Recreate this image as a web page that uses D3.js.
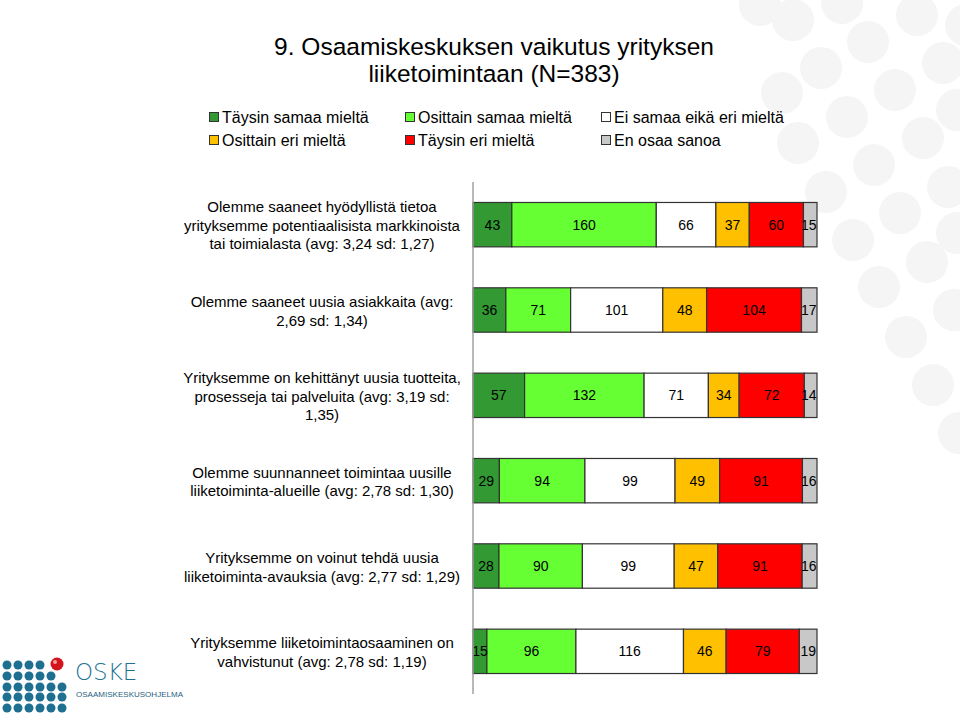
<!DOCTYPE html>
<html>
<head>
<meta charset="utf-8">
<script src="https://cdn.jsdelivr.net/npm/d3@7"></script>
<style>
  html, body { margin: 0; padding: 0; background: #fff; }
  svg { display: block; font-family: "Liberation Sans", Arial, sans-serif; }
</style>
</head>
<body>
<svg id="chart" width="960" height="717"></svg>
<script>
// ---------------- DATA ----------------
const title = ["9. Osaamiskeskuksen vaikutus yrityksen", "liiketoimintaan (N=383)"];

const categories = [
  ["Olemme saaneet hyödyllistä tietoa", "yrityksemme potentiaalisista markkinoista", "tai toimialasta (avg: 3,24 sd: 1,27)"],
  ["Olemme saaneet uusia asiakkaita (avg:", "2,69 sd: 1,34)"],
  ["Yrityksemme on kehittänyt uusia tuotteita,", "prosesseja tai palveluita (avg: 3,19 sd:", "1,35)"],
  ["Olemme suunnanneet toimintaa uusille", "liiketoiminta-alueille (avg: 2,78 sd: 1,30)"],
  ["Yrityksemme on voinut tehdä uusia", "liiketoiminta-avauksia (avg: 2,77 sd: 1,29)"],
  ["Yrityksemme liiketoimintaosaaminen on", "vahvistunut (avg: 2,78 sd: 1,19)"]
];

const seriesNames = ["Täysin samaa mieltä", "Osittain samaa mieltä", "Ei samaa eikä eri mieltä",
                     "Osittain eri mieltä", "Täysin eri mieltä", "En osaa sanoa"];

const taysinSamaa   = [43, 36, 57, 29, 28, 15];
const osittainSamaa = [160, 71, 132, 94, 90, 96];
const eiSamaaEiEri  = [66, 101, 71, 99, 99, 116];
const osittainEri   = [37, 48, 34, 49, 47, 46];
const taysinEri     = [60, 104, 72, 91, 91, 79];
const enOsaaSanoa   = [15, 17, 14, 16, 16, 19];

const seriesValues = [taysinSamaa, osittainSamaa, eiSamaaEiEri, osittainEri, taysinEri, enOsaaSanoa];
const seriesColors = ["#339933", "#66ff33", "#ffffff", "#ffc000", "#ff0000", "#c8c8c8"];

// ---------------- DRAW ----------------
const svg = d3.select("#chart");

// decorative background dots (top right)
const bgDots = [[793,20],[842,3],[917,15],[868,42],[821,68],[943,63],[895,90],[782,93],[847,117],
  [923,138],[798,143],[874,165],[957,110],[826,192],[948,187],[900,213],[853,240],[927,262],[879,287],
  [957,233],[954,310],[906,337],[933,385],[959,433],[760,5],[966,25]];
svg.append("g").selectAll("circle").data(bgDots).join("circle")
  .attr("cx", d => d[0]).attr("cy", d => d[1]).attr("r", 21).attr("fill", "#f5f5f5");

// title
svg.append("g").selectAll("text").data(title).join("text")
  .attr("x", 494).attr("y", (d, i) => 55 + i * 27)
  .attr("text-anchor", "middle").attr("font-size", 24.5).attr("fill", "#000")
  .text(d => d);

// legend
const legendPos = [[209,112],[405,112],[601,112],[209,135],[405,135],[601,135]];
const lg = svg.append("g").selectAll("g").data(seriesNames).join("g")
  .attr("transform", (d, i) => `translate(${legendPos[i][0]},${legendPos[i][1]})`);
lg.append("rect").attr("x", 0.5).attr("y", 0.5).attr("width", 9).attr("height", 9)
  .attr("fill", (d, i) => seriesColors[i]).attr("stroke", "#333").attr("stroke-width", 1);
lg.append("text").attr("x", 13).attr("y", 5).attr("dy", "0.35em")
  .attr("font-size", 16).attr("fill", "#000").text(d => d);

// scales
const rows = categories.map((c, i) => {
  const vals = seriesValues.map(s => s[i]);
  const total = d3.sum(vals);
  let acc = 0;
  return vals.map((v, k) => {
    const seg = { row: i, k, v, x0: acc / total, x1: (acc + v) / total };
    acc += v;
    return seg;
  });
});

const x = d3.scaleLinear().domain([0, 1]).range([473, 817]);
const y = d3.scaleBand().domain(d3.range(categories.length)).range([182, 694])
  .paddingInner(0.48).paddingOuter(0.24);

// bars
const barG = svg.append("g");
barG.selectAll("g").data(rows).join("g").selectAll("rect").data(d => d).join("rect")
  .attr("x", d => x(d.x0)).attr("y", d => y(d.row))
  .attr("width", d => x(d.x1) - x(d.x0)).attr("height", y.bandwidth())
  .attr("fill", d => seriesColors[d.k]).attr("stroke", "#333").attr("stroke-width", 1.2);

// value labels
const lblG = svg.append("g");
lblG.selectAll("g").data(rows).join("g").selectAll("text").data(d => d).join("text")
  .attr("y", d => y(d.row) + y.bandwidth() / 2).attr("dy", "0.35em")
  .attr("text-anchor", "middle").attr("font-size", 14).attr("fill", "#000")
  .text(d => d.v)
  .attr("x", function(d) {
    const c = (x(d.x0) + x(d.x1)) / 2;
    const hw = this.getComputedTextLength() / 2;
    return Math.min(c, x(1) - hw - 0.5);
  });

// axis line (left)
const yAxis = d3.axisLeft(y).tickSize(0).tickFormat("");
svg.append("g").attr("transform", `translate(${x(0)},0)`).call(yAxis)
  .call(g => g.select(".domain").attr("stroke", "#a0a0a0").attr("stroke-width", 1.5)
    .attr("d", "M0,182V694"));

// category labels
const catG = svg.append("g").selectAll("text").data(categories).join("text")
  .attr("text-anchor", "middle").attr("font-size", 15).attr("fill", "#000");
catG.each(function(lines, i) {
  const cy = y(i) + y.bandwidth() / 2 + 1;
  const lh = 18.5;
  const top = cy - (lines.length - 1) * lh / 2;
  d3.select(this).selectAll("tspan").data(lines).join("tspan")
    .attr("x", 322).attr("y", (d, j) => top + j * lh).attr("dy", "0.35em").text(d => d);
});

// OSKE logo (decoration)
const logo = svg.append("g");
const dotCols = [7, 18, 29, 40, 51, 62];
const dotRows = [665, 676, 687, 697, 708];
const dotCount = [4, 5, 6, 6, 6];
dotRows.forEach((ry, r) => {
  for (let c = 0; c < dotCount[r]; c++) {
    logo.append("circle").attr("cx", dotCols[c]).attr("cy", ry).attr("r", 4.5).attr("fill", "#1f6f91");
  }
});
logo.append("circle").attr("cx", 57).attr("cy", 664).attr("r", 6.5).attr("fill", "#d4141c");
logo.append("circle").attr("cx", 55).attr("cy", 662).attr("r", 2).attr("fill", "#f4a0a0");
logo.append("text").attr("x", 75).attr("y", 680).attr("font-size", 23).attr("fill", "#1f7391")
  .attr("font-family", "'DejaVu Sans', sans-serif").attr("font-weight", 200).text("OSKE");
logo.append("text").attr("x", 76).attr("y", 697).attr("font-size", 8).attr("fill", "#1f5f7f")
  .attr("textLength", 107).text("OSAAMISKESKUSOHJELMA");
</script>
</body>
</html>
